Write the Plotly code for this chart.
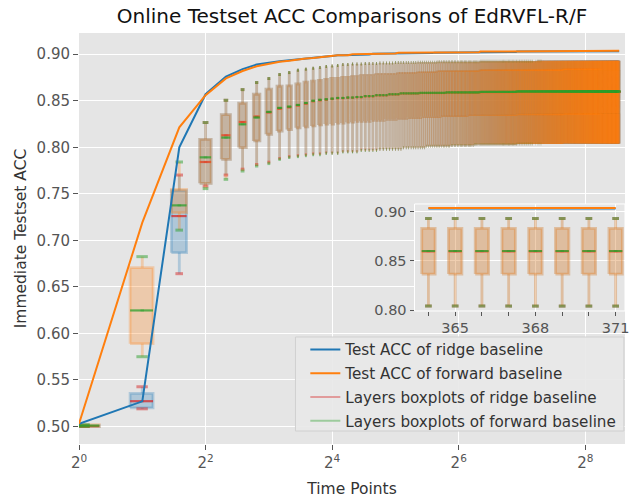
import math
import plotly.graph_objects as go

# ---------------- data ----------------
# every series is stored as run-length pairs (value, number of consecutive time points)
T_POINTS = 371

RIDGE_ACC = [(0.503, 1), (0.527, 1), (0.800, 1), (0.857, 1), (0.876, 1), (0.884, 1), (0.889, 1), (0.891, 1),
             (0.8925, 1), (0.8935, 1), (0.8946, 1), (0.8955, 1), (0.896, 1), (0.897, 1), (0.8975, 1), (0.898, 1),
             (0.899, 3), (0.8998, 5), (0.9005, 8), (0.9012, 16), (0.9017, 32), (0.9024, 40), (0.9029, 80), (0.9031, 171)]
FORWARD_ACC = [(0.503, 1), (0.719, 1), (0.8215, 1), (0.856, 1), (0.874, 1), (0.882, 1), (0.887, 1), (0.890, 1),
               (0.892, 1), (0.893, 1), (0.8946, 1), (0.8955, 1), (0.896, 1), (0.897, 1), (0.8977, 1), (0.898, 1),
               (0.899, 3), (0.900, 5), (0.9008, 8), (0.9015, 16), (0.902, 32), (0.9028, 40), (0.9033, 80), (0.9036, 171)]

# box statistics of the layers (lower whisker, q1, median, q3, upper whisker)
FWD_LO = [(0.500, 1), (0.575, 1), (0.711, 1), (0.7556, 1), (0.7656, 1), (0.7745, 1), (0.7799, 1), (0.7825, 1),
          (0.787, 1), (0.789, 1), (0.790, 1), (0.791, 1), (0.792, 2), (0.7935, 3), (0.795, 4), (0.7965, 5),
          (0.798, 8), (0.7995, 10), (0.801, 14), (0.802, 17), (0.803, 45), (0.8035, 80), (0.804, 171)]
FWD_Q1 = [(0.500, 1), (0.589, 1), (0.7298, 1), (0.7613, 1), (0.7871, 1), (0.7997, 1), (0.8068, 1), (0.814, 1),
          (0.8175, 1), (0.819, 1), (0.821, 1), (0.822, 1), (0.823, 1), (0.824, 1), (0.825, 2), (0.826, 2),
          (0.827, 2), (0.828, 4), (0.829, 4), (0.830, 4), (0.831, 4), (0.832, 6), (0.833, 10), (0.834, 18),
          (0.835, 50), (0.836, 80), (0.8365, 171)]
FWD_MED = [(0.501, 1), (0.6247, 1), (0.7376, 1), (0.7892, 1), (0.8104, 1), (0.8247, 1), (0.832, 1), (0.838, 1),
           (0.8423, 1), (0.8437, 1), (0.8455, 1), (0.8476, 1), (0.850, 1), (0.851, 1), (0.8516, 1), (0.8523, 1),
           (0.853, 2), (0.8535, 2), (0.854, 2), (0.855, 3), (0.856, 4), (0.857, 4), (0.858, 8), (0.8585, 14),
           (0.859, 25), (0.8595, 40), (0.860, 251)]
FWD_Q3 = [(0.502, 1), (0.6706, 1), (0.7548, 1), (0.8086, 1), (0.835, 1), (0.8473, 1), (0.857, 1), (0.8624, 1),
          (0.8656, 1), (0.866, 1), (0.868, 1), (0.870, 1), (0.871, 1), (0.872, 1), (0.873, 1), (0.874, 2),
          (0.875, 2), (0.876, 2), (0.877, 4), (0.878, 7), (0.879, 8), (0.880, 10), (0.881, 30), (0.882, 120),
          (0.883, 171)]
FWD_HI = [(0.502, 1), (0.6825, 1), (0.7842, 1), (0.8266, 1), (0.8505, 1), (0.862, 1), (0.8696, 1), (0.8739, 1),
          (0.8782, 1), (0.8803, 1), (0.8828, 1), (0.8839, 1), (0.8849, 1), (0.8857, 1), (0.8868, 1), (0.8874, 1),
          (0.888, 1), (0.889, 2), (0.8895, 3), (0.890, 4), (0.8905, 5), (0.891, 9), (0.8915, 10), (0.892, 30),
          (0.8925, 70), (0.893, 221)]

RDG_LO = [(0.500, 1), (0.519, 1), (0.6642, 1), (0.7584, 1), (0.7702, 1), (0.7765, 1), (0.7815, 1), (0.784, 1),
          (0.788, 1), (0.790, 1), (0.791, 1), (0.792, 1), (0.793, 2), (0.794, 3), (0.7955, 4), (0.797, 5),
          (0.798, 8), (0.7995, 10), (0.801, 14), (0.802, 17), (0.803, 45), (0.8035, 80), (0.804, 171)]
RDG_Q1 = [(0.500, 1), (0.520, 1), (0.6868, 1), (0.7613, 1), (0.7871, 1), (0.7997, 1), (0.8068, 1), (0.814, 1),
          (0.8175, 1), (0.819, 1), (0.821, 1), (0.822, 1), (0.823, 1), (0.824, 1), (0.825, 2), (0.826, 2),
          (0.827, 2), (0.828, 4), (0.829, 4), (0.830, 4), (0.831, 4), (0.832, 6), (0.833, 10), (0.834, 18),
          (0.835, 50), (0.836, 80), (0.8365, 171)]
RDG_MED = [(0.5005, 1), (0.5272, 1), (0.7261, 1), (0.7842, 1), (0.8129, 1), (0.8272, 1), (0.833, 1), (0.8375, 1),
           (0.8415, 1), (0.843, 1), (0.845, 1), (0.847, 1), (0.8495, 1), (0.8505, 1), (0.8512, 1), (0.852, 1),
           (0.8528, 2), (0.8532, 2), (0.8538, 2), (0.8548, 3), (0.8558, 4), (0.8568, 4), (0.8578, 8), (0.8583, 14),
           (0.8588, 25), (0.8593, 40), (0.8597, 251)]
RDG_Q3 = [(0.501, 1), (0.5355, 1), (0.7535, 1), (0.8086, 1), (0.835, 1), (0.8473, 1), (0.857, 1), (0.8624, 1),
          (0.8656, 1), (0.866, 1), (0.868, 1), (0.870, 1), (0.871, 1), (0.872, 1), (0.873, 1), (0.874, 2),
          (0.875, 2), (0.876, 2), (0.877, 4), (0.878, 7), (0.879, 8), (0.880, 10), (0.881, 30), (0.882, 120),
          (0.883, 171)]
RDG_HI = [(0.501, 1), (0.5427, 1), (0.7702, 1), (0.8266, 1), (0.8505, 1), (0.862, 1), (0.8696, 1), (0.8739, 1),
          (0.8782, 1), (0.8803, 1), (0.8828, 1), (0.8839, 1), (0.8849, 1), (0.8857, 1), (0.8868, 1), (0.8874, 1),
          (0.888, 1), (0.889, 2), (0.8895, 3), (0.890, 4), (0.8905, 5), (0.891, 9), (0.8915, 10), (0.892, 30),
          (0.8925, 70), (0.893, 221)]

X_TICKS = [1, 4, 16, 64, 256]
X_TICK_TEXT = ["2<sup>0</sup>", "2<sup>2</sup>", "2<sup>4</sup>", "2<sup>6</sup>", "2<sup>8</sup>"]
Y_TICKS = [0.50, 0.55, 0.60, 0.65, 0.70, 0.75, 0.80, 0.85, 0.90]
INSET_X_TICKS = [365, 368, 371]
INSET_Y_TICKS = [0.80, 0.85, 0.90]
LEGEND_NAMES = ["Test ACC of ridge baseline", "Test ACC of forward baseline",
                "Layers boxplots of ridge baseline", "Layers boxplots of forward baseline"]


def expand(runs):
    out = []
    for v, n in runs:
        out.extend([v] * n)
    assert len(out) == T_POINTS, len(out)
    return out


t_all = list(range(1, T_POINTS + 1))
ridge_acc = expand(RIDGE_ACC)
fwd_acc = expand(FORWARD_ACC)
ridge = [expand(s) for s in (RDG_LO, RDG_Q1, RDG_MED, RDG_Q3, RDG_HI)]
fwd = [expand(s) for s in (FWD_LO, FWD_Q1, FWD_MED, FWD_Q3, FWD_HI)]

# ---------------- style ----------------
BLUE = (31, 119, 180)
ORANGE = (255, 127, 14)
RED = (214, 39, 40)
GREEN = (44, 160, 44)
HW = 0.25      # half box width (data units)
CW = 0.125     # half cap width
GROUPS = 16    # interleaved groups so overlapping translucent boxes compound like matplotlib
FONT = "DejaVu Sans"


def rgba(c, a):
    return f"rgba({c[0]},{c[1]},{c[2]},{a})"


def box_geom(idx, stats):
    lo, q1, md, q3, hi = stats
    bx, by, cx, cy, mx, my = [], [], [], [], [], []
    for i in idx:
        t = t_all[i]
        x0, x1 = t - HW, t + HW
        bx += [x0, x1, x1, x0, x0, None, t, t, None, t, t, None]
        by += [q1[i], q1[i], q3[i], q3[i], q1[i], None, lo[i], q1[i], None, q3[i], hi[i], None]
        cx += [t - CW, t + CW, None, t - CW, t + CW, None]
        cy += [lo[i], lo[i], None, hi[i], hi[i], None]
        mx += [x0, x1, None]
        my += [md[i], md[i], None]
    return bx, by, cx, cy, mx, my


fig = go.Figure()


def add_boxes(stats, body, alpha, accent, xa, ya, idx_all, groups):
    for g in range(groups):
        idx = [i for i in idx_all if i % groups == g]
        if not idx:
            continue
        bx, by, _, _, _, _ = box_geom(idx, stats)
        fig.add_trace(go.Scatter(x=bx, y=by, mode="lines", fill="toself",
                                 fillcolor=rgba(body, alpha),
                                 line=dict(color=rgba(body, alpha), width=2.8),
                                 hoverinfo="skip", showlegend=False, xaxis=xa, yaxis=ya))
    _, _, cx, cy, mx, my = box_geom(idx_all, stats)
    fig.add_trace(go.Scatter(x=cx, y=cy, mode="lines", line=dict(color=rgba(accent, 0.5), width=3),
                             hoverinfo="skip", showlegend=False, xaxis=xa, yaxis=ya))
    fig.add_trace(go.Scatter(x=mx, y=my, mode="lines", line=dict(color=rgba(accent, 0.75), width=2.2),
                             hoverinfo="skip", showlegend=False, xaxis=xa, yaxis=ya))
    # minimum-length median ticks (matplotlib's projecting line caps keep tiny medians visible)
    fig.add_trace(go.Scatter(x=[t_all[i] for i in idx_all], y=[stats[2][i] for i in idx_all], mode="markers",
                             marker=dict(symbol="line-ew", size=2.5, line=dict(color=rgba(accent, 0.45), width=2)),
                             hoverinfo="skip", showlegend=False, xaxis=xa, yaxis=ya))


all_idx = list(range(T_POINTS))
inset_idx = list(range(T_POINTS - 8, T_POINTS))

# main axes
add_boxes(ridge, BLUE, 0.27, RED, "x", "y", all_idx, GROUPS)
add_boxes(fwd, ORANGE, 0.27, GREEN, "x", "y", all_idx, GROUPS)
fig.add_trace(go.Scatter(x=t_all, y=ridge_acc, mode="lines", line=dict(color=rgba(BLUE, 1), width=2),
                         name=LEGEND_NAMES[0], legendrank=1, legendgroup="a"))
fig.add_trace(go.Scatter(x=t_all, y=fwd_acc, mode="lines", line=dict(color=rgba(ORANGE, 1), width=2),
                         name=LEGEND_NAMES[1], legendrank=2, legendgroup="b"))
fig.add_trace(go.Scatter(x=[None], y=[None], mode="lines", line=dict(color=rgba(RED, 0.4), width=2),
                         name=LEGEND_NAMES[2], legendrank=3, legendgroup="c"))
fig.add_trace(go.Scatter(x=[None], y=[None], mode="lines", line=dict(color=rgba(GREEN, 0.4), width=2),
                         name=LEGEND_NAMES[3], legendrank=4, legendgroup="d"))

# inset axes
add_boxes(ridge, BLUE, 0.1, RED, "x2", "y2", inset_idx, 1)
add_boxes(fwd, ORANGE, 0.3, GREEN, "x2", "y2", inset_idx, 1)
fig.add_trace(go.Scatter(x=[t_all[i] for i in inset_idx], y=[ridge_acc[i] for i in inset_idx], mode="lines",
                         line=dict(color=rgba(BLUE, 1), width=2), showlegend=False, xaxis="x2", yaxis="y2"))
fig.add_trace(go.Scatter(x=[t_all[i] for i in inset_idx], y=[fwd_acc[i] for i in inset_idx], mode="lines",
                         line=dict(color=rgba(ORANGE, 1), width=2), showlegend=False, xaxis="x2", yaxis="y2"))

TICKFONT = dict(family=FONT, size=14.5, color="#555555")
fig.update_layout(
    width=631, height=499,
    margin=dict(l=79, r=2, t=33, b=55),
    paper_bgcolor="white", plot_bgcolor="#E5E5E5",
    font=dict(family=FONT, color="#333333"),
    title=dict(text="Online Testset ACC Comparisons of EdRVFL-R/F", x=0.5, xref="paper", xanchor="center",
               y=1 - 16 / 499, yanchor="middle", font=dict(family=FONT, size=20, color="#111111")),
    xaxis=dict(type="log", range=[0, math.log10(395.5)], tickvals=X_TICKS, ticktext=X_TICK_TEXT,
               showgrid=True, gridcolor="white", gridwidth=1.3, zeroline=False,
               ticks="outside", ticklen=5, tickcolor="#555555", tickfont=dict(family=FONT, size=15, color="#555555"),
               title=dict(text="Time Points", standoff=12, font=dict(family=FONT, size=15.5, color="#333333")),
               showline=False, automargin=False),
    yaxis=dict(range=[0.4812, 0.9228], tickvals=Y_TICKS, tickformat=".2f",
               showgrid=True, gridcolor="white", gridwidth=1.3, zeroline=False,
               ticks="outside", ticklen=5, tickcolor="#555555", tickfont=dict(family=FONT, size=15, color="#555555"),
               title=dict(text="Immediate Testset ACC", standoff=6, font=dict(family=FONT, size=15.5, color="#333333")),
               showline=False, automargin=False),
    xaxis2=dict(domain=[0.6145, 1.0], anchor="y2", range=[363.48, 371.35], tickvals=INSET_X_TICKS,
                showgrid=True, gridcolor="white", gridwidth=1.3, zeroline=False, ticklabeloverflow="allow",
                ticks="outside", ticklen=4, tickcolor="#555555", tickfont=TICKFONT,
                minor=dict(dtick=1, tick0=364, ticks="outside", ticklen=4, tickcolor="#555555", showgrid=False)),
    yaxis2=dict(domain=[0.3236, 0.584], anchor="x2", range=[0.799, 0.9078], tickvals=INSET_Y_TICKS,
                tickformat=".2f", showgrid=True, gridcolor="white", gridwidth=1.3, zeroline=False,
                ticks="outside", ticklen=4, tickcolor="#555555", tickfont=TICKFONT),
    legend=dict(x=0.4145, xanchor="left", y=0.270, yanchor="top", bgcolor="rgba(0,0,0,0)",
                borderwidth=0, font=dict(family=FONT, size=15.2, color="#333333"),
                traceorder="grouped", tracegroupgap=1),
    shapes=[dict(type="rect", xref="x2 domain", yref="y2 domain", x0=0, x1=1, y0=0, y1=1,
                 line=dict(color="white", width=1), layer="above"),
            # legend frame
            dict(type="rect", xref="paper", yref="paper", x0=0.3964, x1=0.998, y0=0.0316, y1=0.2603,
                 fillcolor="rgba(232,232,232,0.9)", line=dict(color="#d0d0d0", width=1), layer="above")],
)

fig.write_html("out.html")
